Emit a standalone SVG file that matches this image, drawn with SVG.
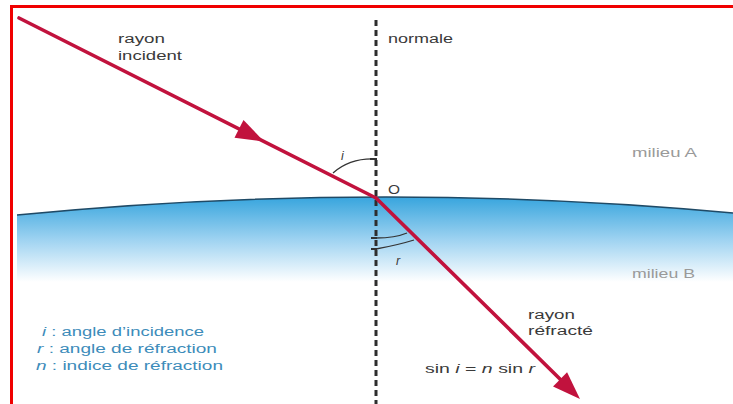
<svg xmlns="http://www.w3.org/2000/svg" width="733" height="404" viewBox="0 0 733 404">
<style>
text{font-family:"Liberation Sans",Arial,sans-serif;font-size:12.5px}
.lbl{fill:#3a3a3a}
.med{fill:#9a9a9a}
.leg{fill:#3d8cba}
.it{font-style:italic}
.ray{stroke:#c1123d;stroke-width:3.6;fill:none;stroke-linecap:round}
.arc{stroke:#333;stroke-width:1.3;fill:none}
.arrow{fill:#c1123d}
</style>
<defs>
<linearGradient id="water" gradientUnits="userSpaceOnUse" x1="0" y1="198" x2="0" y2="282">
<stop offset="0" stop-color="#3aa6de"/>
<stop offset="0.5" stop-color="#9fd3f1"/>
<stop offset="1" stop-color="#ffffff"/>
</linearGradient>
<path id="head" d="M0,0 L-28,-10 L-28,10 Z"/>
</defs>
<rect width="733" height="404" fill="#ffffff"/>
<g id="border">
<line x1="10" y1="6.5" x2="733" y2="6.5" stroke="#f00000" stroke-width="3"/>
<line x1="11.5" y1="5" x2="11.5" y2="404" stroke="#f00000" stroke-width="3"/>
</g>
<g id="milieux">
<path d="M17,215 Q376,180 733,213 L733,290 L17,290 Z" fill="url(#water)"/>
<path d="M17,215 Q376,180 733,213" fill="none" stroke="#1f4a66" stroke-width="1.5"/>
<text class="med" x="632" y="157" textLength="65" lengthAdjust="spacingAndGlyphs">milieu A</text>
<text class="med" x="632" y="278" textLength="63" lengthAdjust="spacingAndGlyphs">milieu B</text>
</g>
<g id="normale">
<line x1="376" y1="20" x2="376" y2="404" stroke="#2e2e2e" stroke-width="3" stroke-dasharray="6,4"/>
<text class="lbl" x="388" y="43" textLength="65" lengthAdjust="spacingAndGlyphs">normale</text>
</g>
<g id="connectors">
<g id="rayon-incident">
<line class="ray" x1="19" y1="18" x2="376" y2="198"/>
<use href="#head" class="arrow" transform="translate(264,141.5) rotate(26.76)"/>
</g>
<g id="rayon-refracte">
<line class="ray" x1="376" y1="198" x2="562" y2="381"/>
<use href="#head" class="arrow" transform="translate(580,399) rotate(44.6)"/>
</g>
</g>
<g id="angles">
<path class="arc" d="M333,173 Q350,158 375,159"/>
<line x1="370" y1="159" x2="377" y2="159" stroke="#333" stroke-width="2"/>
<text class="lbl it" x="341" y="160">i</text>
<path class="arc" d="M376,238 Q395,238 407,233"/>
<path class="arc" d="M376,249 Q398,245 414,240"/>
<line x1="371" y1="238" x2="377" y2="238" stroke="#333" stroke-width="2"/>
<line x1="371" y1="249" x2="377" y2="249" stroke="#333" stroke-width="2"/>
<text class="lbl it" x="396" y="265">r</text>
</g>
<g id="point-O">
<text class="lbl" x="388" y="194" textLength="12" lengthAdjust="spacingAndGlyphs">O</text>
</g>
<g id="labels">
<text class="lbl" x="118" y="43" textLength="47" lengthAdjust="spacingAndGlyphs">rayon</text>
<text class="lbl" x="118" y="60" textLength="64" lengthAdjust="spacingAndGlyphs">incident</text>
<text class="lbl" x="528" y="319" textLength="47" lengthAdjust="spacingAndGlyphs">rayon</text>
<text class="lbl" x="528" y="335" textLength="65" lengthAdjust="spacingAndGlyphs">réfracté</text>
<text class="lbl" x="425" y="373" textLength="110" lengthAdjust="spacingAndGlyphs">sin <tspan class="it">i</tspan> = <tspan class="it">n</tspan> sin <tspan class="it">r</tspan></text>
</g>
<g id="legende">
<text class="leg" x="42" y="336" textLength="162" lengthAdjust="spacingAndGlyphs"><tspan class="it">i</tspan> : angle d’incidence</text>
<text class="leg" x="37" y="353" textLength="180" lengthAdjust="spacingAndGlyphs"><tspan class="it">r</tspan> : angle de réfraction</text>
<text class="leg" x="36" y="370" textLength="187" lengthAdjust="spacingAndGlyphs"><tspan class="it">n</tspan> : indice de réfraction</text>
</g>
</svg>
